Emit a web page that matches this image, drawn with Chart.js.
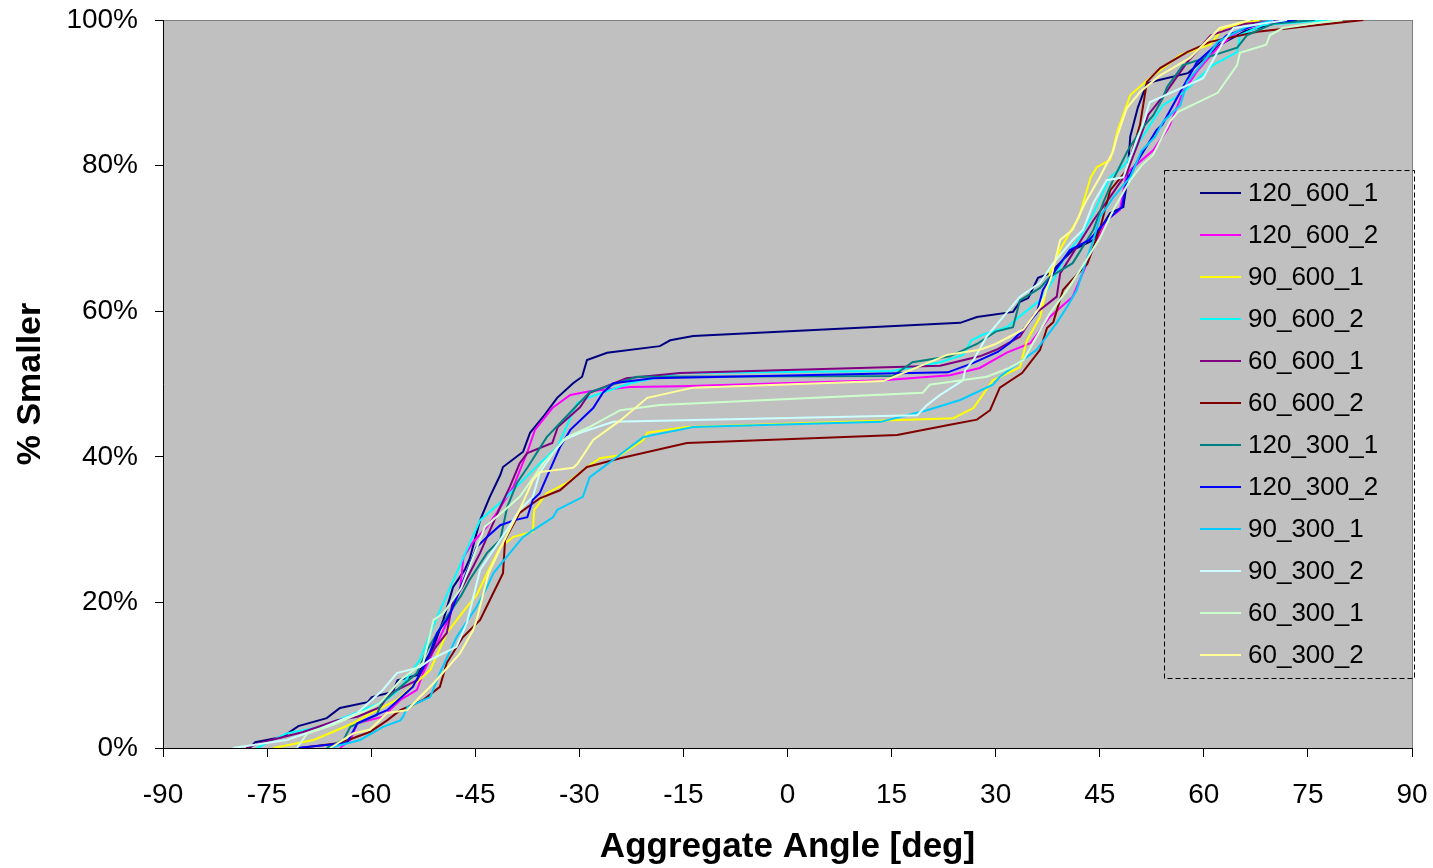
<!DOCTYPE html>
<html lang="en">
<head>
<meta charset="UTF-8">
<title>Aggregate Angle</title>
<script src="https://cdn.jsdelivr.net/npm/chart.js"></script>
<style>
  html, body { margin: 0; padding: 0; background: #fff; }
  #wrap { width: 1433px; height: 868px; }
</style>
</head>
<body>
<div id="wrap"><canvas id="grafica" width="1433" height="868"></canvas></div>
<script>
  // [angle deg, % smaller]
  const s120_600_1 = [[-77.5,0],[-76.7,0.8],[-72.8,1.5],[-70.5,3.0],[-66.4,4.1],[-64.5,5.5],[-60.5,6.3],[-59.9,7.0],[-56.9,7.7],[-56.2,9.3],[-53.4,10.0],[-51,13.9],[-49.6,17.6],[-48.2,22.1],[-46.5,24.5],[-45.8,26],[-44.3,31.3],[-42.9,34.5],[-41.4,37.5],[-41,38.6],[-38.1,40.7],[-37.1,43.3],[-35.2,45.5],[-33.2,48.1],[-30.9,50.1],[-29.6,51.0],[-28.9,53.3],[-26,54.3],[-18.4,55.2],[-16.9,56.0],[-13.6,56.6],[24.9,58.4],[27.3,59.2],[32.5,59.9],[33.5,61.3],[34.7,61.8],[36.1,64.6],[37.8,65.2],[41.1,68.4],[44.1,69.8],[46.5,73.5],[48.4,74.3],[48.9,77.6],[49.4,84],[50.5,88],[51.8,91.3],[53.7,91.8],[57.7,92.7],[62.3,96.6],[66,98.5],[71,99.7],[73.4,100]];
  const s120_600_2 = [[-64.5,0],[-63,1.1],[-62,3.4],[-58.3,4.3],[-55.8,6.6],[-53.4,8],[-52.5,10.3],[-49.1,17.2],[-47.2,21.7],[-46.7,26.2],[-45.3,28.3],[-43.3,30.4],[-41.9,32.3],[-39.5,35.9],[-37.4,40.9],[-36.4,43.7],[-33.9,46.7],[-31.3,48.5],[-28.5,49],[-22.7,49.6],[-15.5,49.7],[13.8,50.5],[23.4,51.2],[27.7,52.2],[31.6,54.3],[35,55.6],[37.8,59.2],[41.1,62],[43.5,67.4],[46,72.5],[47.9,73.9],[48.9,79],[52.7,82.1],[54.7,84.9],[55.1,85.6],[57,90.1],[59,92.9],[62,96.2],[65,98.5],[70,100]];
  const s90_600_1 = [[-74.1,0],[-68.3,1.1],[-62.6,3.4],[-59.2,5.2],[-56.3,6.6],[-51.5,10.7],[-49.1,15.8],[-46.2,19.4],[-44.8,21],[-43.3,24],[-41.4,27.6],[-39.5,29],[-36.7,29.7],[-36.5,32.7],[-34.7,35],[-31.8,36.4],[-28.9,38.6],[-27,39.8],[-24.1,40.2],[-20.8,42.3],[-20.2,43.3],[-14.5,44.1],[23.9,45.3],[26.8,46.7],[29.6,50.5],[33.5,52.3],[34.5,56],[36.4,59.2],[37.8,65.2],[39.3,68.5],[40.5,70.5],[42,72.9],[43.7,78.4],[44.6,79.8],[46.5,80.8],[46.9,82.1],[47.6,84.9],[49.4,89.7],[52.2,92],[56.6,95.2],[60.9,96.6],[62.8,98.9],[68,100]];
  const s90_600_2 = [[-76.5,0],[-72.2,2],[-67.4,2.9],[-63,4.5],[-58,6.5],[-56,8],[-53,12.1],[-50.5,18],[-47.7,24],[-46.7,26.2],[-44.3,31.3],[-41.4,33.7],[-38.1,36.8],[-35.7,39.1],[-33.2,41.3],[-30.3,47.4],[-28.5,48.2],[-22.7,50.1],[-15.5,51.5],[15,51.8],[22,53],[25.3,54],[26.5,56],[28.2,56.8],[31.6,57.8],[34,59.7],[36.4,61.5],[38.3,64.3],[40.3,68],[42.2,70.2],[44.1,73.5],[46.5,78.4],[48.5,80],[50.5,83],[54.1,88.3],[57,90],[61.3,93.8],[64.8,95.6],[65.2,97.9],[68.5,99.3],[78.2,100]];
  const s60_600_1 = [[-78,0],[-76,0.7],[-73.1,1.4],[-69.8,2.2],[-64.9,3.8],[-62,4.3],[-58.7,5.6],[-57.3,7.5],[-53.4,9.3],[-51,13.5],[-49.1,15.8],[-48.2,20.3],[-46.9,22],[-45.8,24],[-44.3,26.8],[-41.4,33.1],[-40,35.9],[-38.6,39.1],[-37.5,40.5],[-33.9,41.9],[-33.1,44.1],[-29.9,46.8],[-28.5,48.8],[-23.2,50.8],[-15.5,51.5],[22,52.5],[27.7,53.8],[30.1,54.7],[33.5,56.5],[35.5,59.5],[38.8,62],[39.3,65.2],[44.1,72.5],[46.5,75.7],[48.9,79],[50.5,83],[52,87],[54.5,90],[57.6,94.2],[61,97.9],[66,99.5],[72,100]];
  const s60_600_2 = [[-70.3,0],[-64.5,0.7],[-60.2,2.2],[-57.7,3.8],[-55.8,5.2],[-54.8,5.6],[-52.5,6.6],[-50.1,8.4],[-49.1,11.7],[-46.8,15.2],[-44.3,17.6],[-42.4,21.3],[-41,24],[-40.7,28.6],[-38.6,32.3],[-35.7,34.3],[-32.8,35.4],[-28.9,38.6],[-24.1,39.8],[-14.5,41.9],[15.8,43],[23.4,44.4],[27.3,45.1],[29.2,46.4],[30.6,49.5],[33.8,51.5],[36.4,54.7],[37.4,57.7],[38.3,58.5],[39.7,62.9],[40.7,64],[43.2,66.5],[45,71.2],[46.5,76.6],[48.9,79.4],[50.8,85.6],[51.8,91.5],[53.7,93.4],[57.6,95.6],[60.9,97],[67.7,98.4],[83,100]];
  const s120_300_1 = [[-66.4,0],[-64,1.1],[-63,2.9],[-59.2,4.5],[-58.5,6.2],[-53.4,10.3],[-51.9,13.5],[-49.1,18],[-47,21],[-45.8,23.1],[-43.3,26.8],[-41.4,28.6],[-40.4,33.1],[-39,36.4],[-37.5,38.5],[-34.7,42.7],[-30.6,46.8],[-28.5,48.9],[-21.7,51],[15.2,51.1],[18,53],[23.4,53.8],[27.3,55.5],[30,57.2],[32.5,57.8],[33.5,61.5],[36.4,63.2],[37.8,64.7],[41.1,66.6],[44.1,71.2],[45.5,74.9],[46.9,78],[49,82],[51,85],[52.7,86.9],[54.1,89.3],[54.7,90.8],[57,93.8],[64.8,96.2],[66.2,97.9],[70,99.5],[76,100]];
  const s120_300_2 = [[-70.7,0],[-63.5,0.7],[-62,3.4],[-58.7,4.8],[-57.7,5.2],[-54,8.4],[-51.9,12.1],[-50.5,15.8],[-49.1,17.6],[-48.6,18.5],[-44.8,27.6],[-43.3,29],[-41.4,30.6],[-39.3,31.3],[-37.5,31.7],[-36.7,34.1],[-35.7,35],[-34.7,37.2],[-32.8,41.3],[-31.3,43.7],[-28,46.7],[-26.6,48.8],[-25.1,50.1],[-19.4,50.8],[23.1,51.6],[26.8,52.9],[30.3,54.4],[32,55.6],[33.5,57],[35.9,59.7],[36.8,62.9],[38.3,65.2],[40.7,68.4],[43.5,69.8],[46,72.5],[48.2,74.3],[48.9,78],[50.3,80.4],[53.2,84.9],[54,85.6],[56.6,90.1],[59,94.2],[63.3,97.9],[68,99.5],[73,100]];
  const s90_300_1 = [[-66,0],[-61.6,1.1],[-58.3,2.9],[-55.8,3.8],[-55.4,4.3],[-54.8,5.6],[-51.5,7],[-50.1,10.3],[-47.7,15.2],[-44.8,19.4],[-43.3,22.1],[-42.4,24],[-40,26.8],[-38.1,29],[-36.7,29.9],[-33.8,31.7],[-33.2,32.7],[-29.5,34.5],[-28.5,37.2],[-25.1,39.6],[-20.8,42.7],[-13.6,44.1],[13.4,44.8],[20.1,46.4],[24.9,47.8],[29.6,49.9],[30.6,51],[35.9,54.7],[38.8,58.4],[40.3,60.6],[41.7,62.9],[43.2,67.4],[44.1,69.8],[45,72.9],[47,75.7],[49.4,78.4],[51,82],[53,84],[54.1,86],[56.6,88.3],[57.6,91.5],[60.4,94.8],[62,97],[66,99],[70,100]];
  const s90_300_2 = [[-79.9,0],[-72.2,1.1],[-67.8,2.5],[-62,4.8],[-58.3,8],[-56.3,10.3],[-53,11.1],[-51.5,12.1],[-47.7,13.9],[-46.2,17.2],[-44.3,24.5],[-40.4,30],[-38.6,32.7],[-36.7,34.5],[-35.7,37.8],[-33.8,40.5],[-32.3,42.3],[-29.9,43.3],[-25.1,44.8],[18.7,45.7],[20.1,47.1],[22,48.5],[25.3,50.5],[25.6,51.9],[26.8,53.3],[28.7,56.5],[33.5,62],[36.4,63.9],[38.3,66.6],[41.1,69.8],[42.6,71.2],[44.1,74.9],[46,78],[48.4,78.4],[50.3,83.5],[51.2,85.6],[52.2,88.7],[59.9,92],[62.8,97],[64.3,98.9],[72,100]];
  const s60_300_1 = [[-70.7,0],[-69.2,2],[-65.5,3.2],[-60.6,5.2],[-58.7,6.2],[-55.8,9.3],[-52.5,11.7],[-51,17.6],[-49.6,18.5],[-47,22],[-43.6,30.4],[-41,32.5],[-38.6,34.5],[-35.2,39.1],[-31.8,42.7],[-28.5,44.1],[-24.1,46.4],[-18.4,47.1],[19.5,48.8],[20.5,49.9],[22,50.1],[28.7,51],[32,52.2],[34,53.3],[37.8,59.7],[40.3,62.9],[42.2,65.7],[45,70],[47,74],[49.4,78],[51,80],[52.7,81.5],[55.1,86],[56.3,87.4],[62,90],[64.8,93.8],[65.2,95.5],[69,96.6],[69.5,97.9],[71.4,98.9],[77,99.7],[80,100]];
  const s60_300_2 = [[-65.9,0],[-62.6,2],[-60.2,2.5],[-57.7,4.8],[-54.8,5.2],[-53,7],[-51,8.9],[-47.2,13],[-45.3,16.2],[-44.8,17.6],[-43.1,24],[-41,28.2],[-38.6,32.7],[-36.7,36.8],[-35.7,37.9],[-30.9,38.5],[-30.3,39],[-28,42.3],[-24.1,45],[-20.2,48.1],[-13.6,49.5],[13.8,50.4],[17.7,51.9],[23,54],[27.7,54.7],[30,55.5],[34,57.5],[36.4,60.6],[38,64.7],[39.3,69.8],[41.1,71.2],[42.9,74.9],[45,78.4],[46.9,81.9],[47.5,84],[48.9,87.9],[50.8,90.1],[53.7,92.4],[58,94.8],[62.3,98.9],[66.7,100]];

  const series = [s120_600_1, s120_600_2, s90_600_1, s90_600_2, s60_600_1, s60_600_2,
                  s120_300_1, s120_300_2, s90_300_1, s90_300_2, s60_300_1, s60_300_2];
  const labels = ['120_600_1', '120_600_2', '90_600_1', '90_600_2', '60_600_1', '60_600_2',
                  '120_300_1', '120_300_2', '90_300_1', '90_300_2', '60_300_1', '60_300_2'];
  const colors = ['#000080', '#FF00FF', '#FFFF00', '#00FFFF', '#800080', '#800000',
                  '#008080', '#0000FF', '#00CCFF', '#CCFFFF', '#CCFFCC', '#FFFF99'];
  const xTicks = [-90, -75, -60, -45, -30, -15, 0, 15, 30, 45, 60, 75, 90];

  const FONT = "'Liberation Sans', Arial, sans-serif";

  const plotBg = {
    id: 'plotBg',
    beforeDraw(chart) {
      const { ctx, chartArea: a } = chart;
      ctx.save();
      ctx.fillStyle = '#C0C0C0';
      ctx.fillRect(a.left, a.top, a.right - a.left, a.bottom - a.top);
      ctx.strokeStyle = '#808080';
      ctx.lineWidth = 1;
      ctx.strokeRect(a.left + 0.5, a.top + 0.5, a.right - a.left, a.bottom - a.top);
      ctx.restore();
    }
  };

  // legend box drawn inside the plot, like the original
  const boxLegend = {
    id: 'boxLegend',
    afterDraw(chart) {
      const ctx = chart.ctx;
      const x0 = 1164, y0 = 170, w = 250, h = 508;
      ctx.save();
      ctx.setLineDash([5, 3]);
      ctx.strokeStyle = '#000';
      ctx.lineWidth = 1;
      ctx.strokeRect(x0 + 0.5, y0 + 0.5, w, h);
      ctx.setLineDash([]);
      ctx.font = '26px ' + FONT;
      ctx.textBaseline = 'middle';
      ctx.fillStyle = '#000';
      chart.data.datasets.forEach((ds, i) => {
        const y = 193 + i * 42;
        ctx.strokeStyle = ds.borderColor;
        ctx.lineWidth = 2;
        ctx.beginPath();
        ctx.moveTo(1200, y);
        ctx.lineTo(1241, y);
        ctx.stroke();
        ctx.fillText(ds.label, 1248, y + 1);
      });
      ctx.restore();
    }
  };

  new Chart(document.getElementById('grafica'), {
    type: 'line',
    data: {
      datasets: series.map((s, i) => ({
        label: labels[i],
        data: s.map(p => ({ x: p[0], y: p[1] })),
        borderColor: colors[i],
        backgroundColor: colors[i],
        borderWidth: 2,
        pointRadius: 0,
        tension: 0,
        fill: false,
        order: -i
      }))
    },
    options: {
      responsive: false,
      animation: false,
      layout: { padding: { left: 0, right: 21, top: 20, bottom: 0 } },
      plugins: { legend: { display: false }, tooltip: { enabled: false } },
      scales: {
        x: {
          type: 'linear',
          min: -90, max: 90,
          afterFit: s => { s.height = 120; s.paddingLeft = 0; s.paddingRight = 0; },
          afterBuildTicks: s => { s.ticks = xTicks.map(v => ({ value: v })); },
          grid: { drawOnChartArea: false, color: '#000', tickLength: 9 },
          border: { color: '#000' },
          ticks: { color: '#000', padding: 21, font: { family: FONT, size: 28 }, maxRotation: 0 },
          title: { display: true, text: 'Aggregate Angle [deg]', color: '#000',
                   font: { family: FONT, size: 35, weight: 'bold' }, padding: { top: 0, bottom: 0 } }
        },
        y: {
          min: 0, max: 100,
          afterFit: s => { s.width = 163; s.paddingTop = 0; s.paddingBottom = 0; },
          grid: { drawOnChartArea: false, color: '#000', tickLength: 8 },
          border: { color: '#000' },
          ticks: { stepSize: 20, color: '#000', padding: 17, font: { family: FONT, size: 28 },
                   callback: v => v + '%' },
          title: { display: true, text: '% Smaller', color: '#000',
                   font: { family: FONT, size: 34, weight: 'bold' }, padding: { top: 10, bottom: 0 } }
        }
      }
    },
    plugins: [plotBg, boxLegend]
  });
</script>
</body>
</html>
